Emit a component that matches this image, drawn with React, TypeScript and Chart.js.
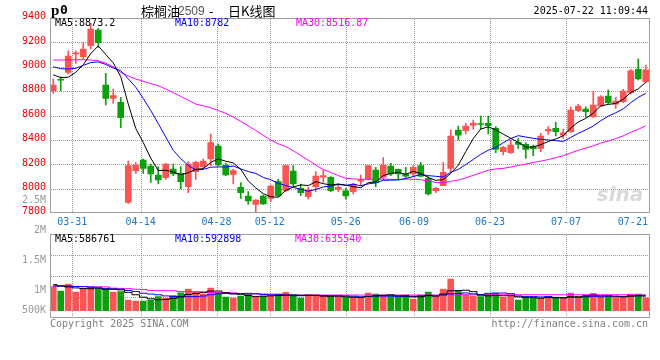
import React, { useEffect, useRef } from 'react';
import { Chart, registerables } from 'chart.js';
Chart.register(...registerables);

// ---------- data ----------
const DATES = ['03-26','03-27','03-28','03-31','04-01','04-02','04-03','04-07','04-08','04-09','04-10','04-11','04-14','04-15','04-16','04-17','04-18','04-21','04-22','04-23','04-24','04-25','04-28','04-29','04-30','05-06','05-07','05-08','05-09','05-12','05-13','05-14','05-15','05-16','05-19','05-20','05-21','05-22','05-23','05-26','05-27','05-28','05-29','05-30','06-03','06-04','06-05','06-06','06-09','06-10','06-11','06-12','06-13','06-16','06-17','06-18','06-19','06-20','06-23','06-24','06-25','06-26','06-27','06-30','07-01','07-02','07-03','07-04','07-07','07-08','07-09','07-10','07-11','07-14','07-15','07-16','07-17','07-18','07-21','07-22'];

const AXIS_DATES = ['03-31','04-14','04-28','05-12','05-26','06-09','06-23','07-07','07-21'];
const GRID_DATES = ['03-31','04-14','04-28','05-12','05-26','06-09','06-23','07-07'];

const OPEN = [8802, 8892, 8955, 9106, 9083, 9173, 9302, 8851, 8742, 8709,
 7890, 8149, 8237, 8187, 8114, 8092, 8163, 8127, 8018, 8141,
 8182, 8245, 8351, 8196, 8119, 8013, 7942, 7873, 7942, 7922,
 8059, 7985, 8146, 8004, 7936, 8018, 8095, 8095, 7996, 7985,
 7977, 8064, 8081, 8155, 8095, 8187, 8160, 8122, 8122, 8190,
 8086, 7985, 8026, 8168, 8482, 8477, 8523, 8532, 8537, 8496,
 8305, 8297, 8381, 8365, 8346, 8332, 8474, 8496, 8441, 8469,
 8641, 8654, 8592, 8679, 8761, 8695, 8714, 8788, 8979, 8878];

const HIGH = [8900, 8919, 9132, 9132, 9198, 9356, 9315, 8947, 8818, 8750,
 8228, 8217, 8245, 8204, 8182, 8209, 8204, 8182, 8223, 8228,
 8245, 8450, 8368, 8209, 8160, 8051, 7977, 7912, 7950, 8032,
 8078, 8196, 8190, 8040, 8013, 8141, 8155, 8100, 8040, 8004,
 8045, 8114, 8190, 8176, 8256, 8209, 8163, 8176, 8190, 8217,
 8100, 8013, 8217, 8482, 8515, 8537, 8564, 8597, 8597, 8510,
 8346, 8400, 8414, 8379, 8359, 8455, 8510, 8545, 8490, 8673,
 8693, 8673, 8802, 8764, 8810, 8750, 8816, 8979, 9064, 9015];

const LOW = [8783, 8802, 8941, 9028, 9064, 9146, 9160, 8687, 8701, 8501,
 7881, 8127, 8127, 8054, 8040, 8078, 8108, 8000, 7969, 8078,
 8168, 8190, 8190, 8108, 8040, 7922, 7873, 7808, 7873, 7895,
 7936, 7977, 8018, 7944, 7917, 7977, 8054, 7977, 7977, 7917,
 7958, 8026, 8073, 8018, 8073, 8108, 8073, 8086, 8100, 8100,
 7950, 7969, 8026, 8133, 8400, 8450, 8490, 8490, 8450, 8297,
 8278, 8291, 8332, 8250, 8272, 8305, 8447, 8433, 8414, 8463,
 8633, 8586, 8586, 8673, 8695, 8660, 8706, 8775, 8892, 8870];

const CLOSE = [8851, 8890, 9089, 9110, 9146, 9310, 9198, 8742, 8764, 8583,
 8190, 8196, 8168, 8122, 8073, 8204, 8122, 8059, 8204, 8217,
 8228, 8379, 8196, 8114, 8149, 7969, 7901, 7909, 7876, 8024,
 7944, 8190, 8040, 7969, 7991, 8105, 8108, 7985, 8013, 7942,
 8040, 8069, 8190, 8051, 8196, 8122, 8122, 8105, 8176, 8105,
 7958, 8004, 8135, 8433, 8441, 8515, 8537, 8528, 8518, 8324,
 8340, 8359, 8365, 8324, 8330, 8433, 8488, 8469, 8460, 8646,
 8679, 8633, 8687, 8755, 8706, 8720, 8802, 8968, 8900, 8976];

const MA5 = [8935, 8912, 8915, 8955, 9017, 9109, 9171, 9101, 9032, 8919,
 8695, 8495, 8380, 8252, 8150, 8153, 8138, 8116, 8132, 8161,
 8166, 8217, 8245, 8227, 8213, 8161, 8066, 8008, 7961, 7936,
 7931, 7989, 8015, 8033, 8027, 8059, 8043, 8032, 8040, 8031,
 8018, 8010, 8051, 8058, 8109, 8126, 8136, 8119, 8144, 8126,
 8093, 8070, 8076, 8127, 8194, 8306, 8412, 8491, 8508, 8484,
 8449, 8414, 8381, 8342, 8344, 8362, 8388, 8409, 8436, 8499,
 8548, 8577, 8621, 8680, 8692, 8700, 8734, 8790, 8819, 8873.2];

const MA10 = [9000, 8985, 8982, 8988, 9012, 9035, 9040, 9020, 8990, 8968,
 8902, 8833, 8741, 8642, 8535, 8424, 8316, 8248, 8192, 8156,
 8159, 8178, 8180, 8180, 8187, 8164, 8142, 8127, 8094, 8075,
 8046, 8027, 8012, 7997, 7981, 7995, 8016, 8023, 8037, 8029,
 8038, 8026, 8041, 8049, 8070, 8072, 8073, 8085, 8101, 8118,
 8109, 8103, 8097, 8136, 8160, 8199, 8241, 8283, 8317, 8339,
 8378, 8413, 8436, 8425, 8414, 8406, 8401, 8395, 8389, 8421,
 8455, 8483, 8515, 8558, 8596, 8624, 8656, 8706, 8750, 8782];

const MA30 = [9056, 9056, 9057, 9058, 9058, 9056, 9050, 9030, 9000, 8955,
 8925, 8900, 8882, 8863, 8845, 8818, 8788, 8758, 8726, 8695,
 8680, 8664, 8643, 8618, 8588, 8553, 8517, 8478, 8439, 8400,
 8370, 8347, 8312, 8274, 8235, 8195, 8159, 8134, 8109, 8087,
 8082, 8078, 8079, 8077, 8081, 8078, 8078, 8080, 8079, 8075,
 8066, 8053, 8051, 8062, 8072, 8090, 8111, 8132, 8153, 8163,
 8168, 8179, 8192, 8203, 8216, 8227, 8240, 8256, 8272, 8295,
 8316, 8335, 8352, 8375, 8392, 8412, 8435, 8464, 8488, 8516.87];

const VOLUME = [958000, 785000, 1064000, 745000, 865000, 931000, 865000, 865000, 745000, 758000,
 426000, 386000, 386000, 426000, 559000, 492000, 599000, 718000, 865000, 758000,
 665000, 904000, 732000, 545000, 505000, 585000, 652000, 559000, 585000, 585000,
 665000, 732000, 585000, 505000, 625000, 625000, 559000, 532000, 532000, 532000,
 532000, 532000, 705000, 665000, 625000, 625000, 532000, 625000, 466000, 625000,
 745000, 559000, 865000, 1264000, 798000, 625000, 585000, 559000, 665000, 692000,
 532000, 585000, 426000, 559000, 492000, 492000, 559000, 492000, 492000, 705000,
 559000, 625000, 690000, 559000, 559000, 559000, 559000, 665000, 665000, 515000];

const VOL_MA5 = [1040000, 990000, 950000, 910000, 883000, 878000, 894000, 854000, 854000, 833000,
 732000, 636000, 540000, 476000, 437000, 450000, 492000, 559000, 647000, 686000,
 721000, 782000, 785000, 721000, 670000, 654000, 604000, 569000, 577000, 593000,
 609000, 625000, 630000, 614000, 622000, 614000, 580000, 569000, 575000, 556000,
 537000, 532000, 567000, 593000, 612000, 630000, 596000, 588000, 556000, 556000,
 599000, 585000, 665000, 793000, 804000, 817000, 761000, 620000, 593000, 607000,
 596000, 601000, 553000, 527000, 519000, 500000, 527000, 513000, 513000, 556000,
 556000, 583000, 622000, 593000, 593000, 580000, 554000, 575000, 596000, 586761];

const VOL_MA10 = [985000, 985000, 980000, 970000, 960000, 940000, 915000, 890000, 870000, 858000,
 805000, 765000, 697000, 665000, 635000, 591000, 564000, 550000, 562000, 562000,
 585000, 637000, 672000, 684000, 678000, 688000, 693000, 677000, 649000, 632000,
 632000, 615000, 600000, 596000, 608000, 612000, 603000, 600000, 595000, 589000,
 576000, 556000, 568000, 584000, 584000, 584000, 564000, 577000, 575000, 584000,
 615000, 591000, 627000, 675000, 680000, 708000, 673000, 643000, 693000, 705000,
 706000, 681000, 587000, 560000, 563000, 548000, 564000, 533000, 520000, 537000,
 528000, 555000, 568000, 553000, 575000, 568000, 568000, 599000, 595000, 592898];

const VOL_MA30 = [985000, 984000, 982000, 965000, 960000, 958000, 955000, 950000, 900000, 890000,
 880000, 855000, 850000, 810000, 800000, 798000, 795000, 765000, 760000, 758000,
 755000, 740000, 720000, 718000, 712000, 680000, 668000, 665000, 664000, 662000,
 655000, 630000, 628000, 626000, 625000, 625000, 625000, 625000, 625000, 625000,
 625000, 625000, 625000, 625000, 625000, 625000, 625000, 625000, 625000, 625000,
 625000, 628000, 630000, 635000, 635000, 636000, 636000, 636000, 636000, 636000,
 636000, 636000, 636000, 636000, 636000, 636000, 636000, 636000, 636000, 636000,
 636000, 636000, 636000, 636000, 636000, 636000, 636000, 636000, 636000, 635540];

const PRICE_MIN = 7800;
const PRICE_MAX = 9400;
const PRICE_STEP = 200;
const VOL_AXIS_LABELS = ['2.5M', '2M', '1.5M', '1M', '500K'];

const SYMBOL = 'p0';
const NAME = '棕榈油';
const CONTRACT = '2509';
const SUFFIX = '日K线图';
const TIMESTAMP = '2025-07-22 11:09:44';
const PRICE_LEGEND = ['MA5:8873.2', 'MA10:8782', 'MA30:8516.87'];
const VOL_LEGEND = ['MA5:586761', 'MA10:592898', 'MA30:635540'];

// ---------- styles ----------
const RED = '#fa5454';
const GREEN = '#0ca00c';
const GRID = '#999999';
const FRAME = '#a0a0a0';
const MONO = '"DejaVu Sans Mono", monospace';
const MA_COLORS = ['#000000', '#0000ff', '#ff00ff'];

const upColors = OPEN.map((o, i) => (CLOSE[i] >= o ? RED : GREEN));

const framePlugin = {
  id: 'frame',
  afterDraw(chart: any) {
    const { ctx, chartArea } = chart;
    const l = Math.round(chartArea.left) + 0.5;
    const t = Math.round(chartArea.top) + 0.5;
    const r = Math.round(chartArea.right) - 0.5;
    const b = Math.round(chartArea.bottom) - 0.5;
    ctx.save();
    ctx.strokeStyle = FRAME;
    ctx.lineWidth = 1;
    ctx.strokeRect(l, t, r - l, b - t);
    ctx.restore();
  },
};

// dotted grid (1px dots every 2px), positioned through the chart's own scales
const dotGridPlugin = {
  id: 'dotGrid',
  beforeDatasetsDraw(chart: any) {
    const { ctx, chartArea, scales } = chart;
    const left = Math.round(chartArea.left);
    const right = Math.round(chartArea.right);
    const top = Math.round(chartArea.top);
    const bottom = Math.round(chartArea.bottom);
    ctx.save();
    ctx.fillStyle = GRID;
    const xg = scales.xg;
    DATES.forEach((d, i) => {
      if (!GRID_DATES.includes(d)) return;
      const x = Math.round(xg.getPixelForValue(i));
      for (let y = top + 1; y < bottom; y += 2) ctx.fillRect(x, y, 1, 1);
    });
    const ticks = scales.y.ticks.slice(1, -1);
    ticks.forEach((t: any) => {
      const y = Math.round(scales.y.getPixelForValue(t.value));
      for (let x = left + 1; x < right; x += 2) ctx.fillRect(x, y, 1, 1);
    });
    ctx.restore();
  },
};

const headerPlugin = {
  id: 'header',
  afterDraw(chart: any) {
    const ctx = chart.ctx;
    ctx.save();
    ctx.textBaseline = 'middle';
    ctx.textAlign = 'left';
    ctx.fillStyle = '#000';
    ctx.font = 'bold 15px "Liberation Serif", serif';
    ctx.fillText(SYMBOL[0], 51, 11);
    ctx.font = 'bold 13px ' + MONO;
    ctx.fillText(SYMBOL.slice(1), 60, 11);
    ctx.font = '13px "Noto Sans CJK SC", sans-serif';
    ctx.fillText(NAME, 141, 11);
    ctx.fillStyle = '#555';
    ctx.font = '12px "Liberation Sans", sans-serif';
    ctx.fillText(CONTRACT, 178, 12);
    ctx.fillStyle = '#000';
    ctx.font = '13px "Noto Sans CJK SC", sans-serif';
    ctx.fillText('-', 209, 11);
    ctx.fillText(SUFFIX, 228, 11);
    ctx.font = '10px ' + MONO;
    ctx.textAlign = 'right';
    ctx.fillText(TIMESTAMP, 648, 11);
    ctx.textAlign = 'left';
    const xs = [55, 175, 296];
    PRICE_LEGEND.forEach((t, i) => {
      ctx.fillStyle = MA_COLORS[i];
      ctx.fillText(t, xs[i], 23.5);
    });
    // watermark
    ctx.fillStyle = 'rgba(170,170,170,0.45)';
    ctx.font = 'italic bold 20px "DejaVu Sans", sans-serif';
    ctx.textAlign = 'center';
    ctx.fillText('sina', 620, 196);
    ctx.restore();
  },
};

const volTextPlugin = {
  id: 'volText',
  afterDraw(chart: any) {
    const ctx = chart.ctx;
    ctx.save();
    ctx.textBaseline = 'middle';
    ctx.font = '10px ' + MONO;
    ctx.textAlign = 'right';
    ctx.fillStyle = '#999';
    const ys = [10.7, 40, 70, 100, 120.7];
    VOL_AXIS_LABELS.forEach((t, i) => ctx.fillText(t, 46, ys[i]));
    ctx.textAlign = 'left';
    const xs = [55, 175, 295];
    VOL_LEGEND.forEach((t, i) => {
      ctx.fillStyle = MA_COLORS[i];
      ctx.fillText(t, xs[i], 49);
    });
    ctx.fillStyle = '#808080';
    ctx.fillText('Copyright 2025 SINA.COM', 50, 134);
    ctx.textAlign = 'right';
    ctx.fillText('http://finance.sina.com.cn', 648, 134);
    ctx.restore();
  },
};

function maLine(label: string, data: number[], color: string, stepped: any) {
  return {
    type: 'line' as const,
    label,
    data,
    borderColor: color,
    borderWidth: 1,
    pointRadius: 0,
    tension: 0,
    fill: false,
    stepped,
    order: 0,
    xAxisID: 'x',
    yAxisID: 'y',
  };
}

export default function App() {
  const refA = useRef<HTMLCanvasElement>(null);
  const refB = useRef<HTMLCanvasElement>(null);

  useEffect(() => {
    const bodies = OPEN.map((o, i) => {
      const lo = Math.min(o, CLOSE[i]);
      const hi = Math.max(o, CLOSE[i]);
      return [lo, Math.max(hi, lo + 8)];
    });
    const wicks = LOW.map((l, i) => [l, HIGH[i]]);

    const chartA = new Chart(refA.current as HTMLCanvasElement, {
      type: 'bar',
      data: {
        labels: DATES,
        datasets: [
          maLine('MA5', MA5, MA_COLORS[0], false),
          maLine('MA10', MA10, MA_COLORS[1], false),
          maLine('MA30', MA30, MA_COLORS[2], false),
          {
            type: 'bar',
            label: 'body',
            data: bodies as any,
            backgroundColor: upColors,
            barThickness: 6,
            grouped: false,
            order: 1,
            xAxisID: 'x',
            yAxisID: 'y',
          },
          {
            type: 'bar',
            label: 'wick',
            data: wicks as any,
            backgroundColor: upColors,
            barThickness: 1,
            grouped: false,
            order: 2,
            xAxisID: 'x',
            yAxisID: 'y',
          },
        ] as any,
      },
      options: {
        responsive: false,
        animation: false,
        events: [],
        layout: { padding: { left: 0, right: 10.5, top: 18, bottom: 0 } },
        plugins: { legend: { display: false }, tooltip: { enabled: false } },
        scales: {
          x: { type: 'category', display: false, offset: true },
          xg: {
            type: 'category',
            position: 'bottom',
            offset: false,
            grid: { display: false, offset: false, drawTicks: false },
            border: { display: false },
            ticks: {
              autoSkip: false,
              maxRotation: 0,
              minRotation: 0,
              padding: 3,
              color: '#1e78c8',
              font: { family: MONO, size: 10 },
              callback: (_v: any, i: number) => {
                const d = DATES[i];
                if (!AXIS_DATES.includes(d)) return '';
                return i === DATES.length - 2 ? d + '   ' : d;
              },
            },
            afterFit: (s: any) => { s.height = 18.7; },
          },
          y: {
            type: 'linear',
            position: 'left',
            min: PRICE_MIN,
            max: PRICE_MAX,
            ticks: {
              stepSize: PRICE_STEP,
              color: '#ee0000',
              padding: 3.5,
              labelOffset: -1.5,
              font: { family: MONO, size: 10 },
              callback: (v: any) => String(v),
            },
            grid: { display: false, drawTicks: false },
            border: { display: false },
            afterFit: (s: any) => { s.width = 49.5; },
          },
        } as any,
      },
      plugins: [dotGridPlugin, framePlugin, headerPlugin],
    });

    const VMIN = -303000;
    const VMAX = 3048000;
    const chartB = new Chart(refB.current as HTMLCanvasElement, {
      type: 'bar',
      data: {
        labels: DATES,
        datasets: [
          maLine('VMA5', VOL_MA5, MA_COLORS[0], 'middle'),
          maLine('VMA10', VOL_MA10, MA_COLORS[1], 'middle'),
          maLine('VMA30', VOL_MA30, MA_COLORS[2], 'middle'),
          {
            type: 'bar',
            label: 'volume',
            data: VOLUME,
            backgroundColor: upColors,
            barThickness: 6,
            order: 1,
            xAxisID: 'x',
            yAxisID: 'y',
          },
        ] as any,
      },
      options: {
        responsive: false,
        animation: false,
        events: [],
        layout: { padding: { left: 0, right: 10.5, top: 44.3, bottom: 21.7 } },
        plugins: { legend: { display: false }, tooltip: { enabled: false } },
        scales: {
          x: { type: 'category', display: false, offset: true },
          xg: {
            type: 'category',
            position: 'bottom',
            offset: false,
            grid: { display: false, offset: false, drawTicks: false },
            border: { display: false },
            ticks: { display: false },
            afterFit: (s: any) => { s.height = 0; },
          },
          y: {
            type: 'linear',
            position: 'left',
            min: VMIN,
            max: VMAX,
            ticks: { display: false },
            grid: { display: false, drawTicks: false },
            border: { display: false },
            afterBuildTicks: (s: any) => {
              s.ticks = [0, 1, 2, 3, 4].map((k) => ({ value: VMIN + ((VMAX - VMIN) * k) / 4 }));
            },
            afterFit: (s: any) => { s.width = 49.5; },
          },
        } as any,
      },
      plugins: [dotGridPlugin, framePlugin, volTextPlugin],
    });

    return () => {
      chartA.destroy();
      chartB.destroy();
    };
  }, []);

  return (
    <div style={{ position: 'absolute', left: 0, top: 0, width: 660, height: 360, background: '#fff', overflow: 'hidden' }}>
      <canvas ref={refA} width={660} height={232} style={{ position: 'absolute', left: 0, top: 0, width: 660, height: 232 }} />
      <canvas ref={refB} width={660} height={150} style={{ position: 'absolute', left: 0, top: 190, width: 660, height: 150 }} />
    </div>
  );
}
